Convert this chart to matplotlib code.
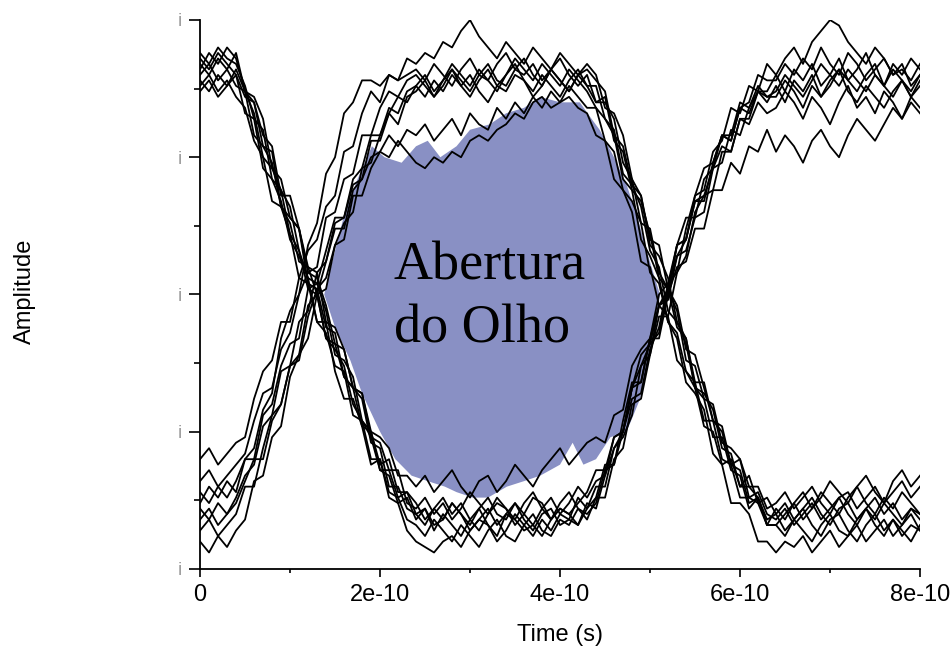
import matplotlib.pyplot as plt
import numpy as np

plt.rcParams["font.family"] = ["Liberation Sans", "DejaVu Sans"]

# sample instants shared by every trace (0 .. 0.8 ns, 10 ps step)
time = np.linspace(0, 8e-10, 81)

# traces with bit pattern 1-0-1
trace_a1 = [93, 91, 94, 92, 90,
            86, 85, 77, 76, 66, 64, 62, 52, 51, 44, 43, 35, 33, 31, 23, 22, 15, 15, 11,
            10, 11, 8, 9, 12, 10, 7, 9, 11, 8, 10, 12, 9, 7, 10, 11, 8, 9, 13, 11,
            13, 19, 19, 27, 34, 34, 42, 48, 49, 57, 60, 67, 67, 74, 79, 78, 84, 83, 87, 87,
            90, 87, 91, 89, 92, 88, 90, 93, 89, 91, 94, 90, 88, 92, 90, 93, 91]
trace_a2 = [88, 90, 87, 89, 86,
            84, 78, 75, 67, 66, 61, 53, 52, 45, 45, 36, 31, 31, 26, 19, 20, 14, 13, 9,
            8, 6, 9, 7, 5, 8, 6, 4, 7, 9, 6, 5, 8, 10, 7, 6, 9, 8, 11, 9,
            13, 13, 20, 22, 30, 31, 39, 46, 46, 54, 57, 65, 68, 69, 76, 76, 82, 81, 85, 83,
            84, 87, 85, 82, 86, 84, 81, 85, 88, 84, 86, 83, 87, 85, 82, 86, 84]
trace_a3 = [91, 94, 92, 95, 93,
            87, 86, 82, 73, 71, 64, 62, 54, 53, 48, 41, 40, 33, 32, 25, 24, 22, 17, 17,
            15, 17, 14, 16, 18, 15, 13, 16, 17, 14, 16, 19, 17, 15, 18, 20, 22, 19, 21, 23,
            24, 23, 28, 29, 37, 40, 42, 50, 52, 59, 64, 64, 71, 73, 79, 78, 84, 85, 90, 89,
            89, 92, 90, 93, 91, 95, 92, 90, 94, 92, 89, 91, 93, 90, 92, 88, 90]
trace_a4 = [89, 87, 90, 88, 91,
            87, 83, 75, 73, 69, 61, 58, 51, 50, 42, 40, 37, 30, 27, 20, 20, 13, 12, 7,
            5, 4, 3, 5, 6, 4, 7, 9, 8, 6, 10, 9, 7, 8, 6, 9, 11, 10, 8, 12,
            11, 17, 22, 24, 28, 37, 41, 43, 51, 57, 58, 64, 65, 73, 74, 80, 79, 84, 87, 86,
            86, 89, 87, 84, 88, 86, 89, 91, 87, 85, 88, 86, 84, 87, 89, 86, 88]
trace_a5 = [92, 90, 93, 91, 94,
            87, 85, 79, 77, 68, 68, 62, 55, 54, 45, 44, 40, 33, 32, 24, 23, 18, 18, 12,
            11, 13, 10, 12, 9, 11, 14, 12, 10, 13, 11, 9, 12, 14, 11, 13, 10, 12, 15, 13,
            16, 17, 24, 25, 33, 39, 41, 48, 50, 59, 60, 67, 68, 73, 77, 76, 82, 82, 87, 85,
            88, 85, 89, 87, 90, 86, 88, 91, 89, 87, 90, 92, 88, 86, 89, 87, 90]
trace_a6 = [90, 92, 89, 91, 88,
            87, 79, 77, 74, 66, 63, 56, 55, 50, 42, 41, 35, 33, 26, 25, 18, 18, 13, 14,
            10, 8, 11, 9, 12, 10, 8, 11, 13, 10, 9, 12, 10, 8, 11, 9, 12, 14, 11, 10,
            12, 18, 19, 25, 31, 32, 40, 44, 52, 54, 62, 68, 69, 76, 78, 84, 83, 88, 87, 92,
            90, 93, 95, 92, 96, 98, 100, 99, 96, 94, 92, 95, 93, 90, 91, 89, 92]
trace_a7 = [94, 92, 95, 93, 92,
            88, 82, 80, 71, 69, 66, 58, 53, 52, 47, 39, 38, 35, 27, 25, 19, 20, 14, 14,
            12, 9, 11, 13, 10, 12, 9, 7, 10, 12, 11, 8, 10, 13, 12, 9, 11, 10, 12, 14,
            18, 18, 24, 25, 33, 34, 42, 42, 50, 55, 56, 62, 62, 69, 69, 74, 72, 77, 76, 80,
            76, 79, 77, 74, 78, 80, 77, 75, 79, 82, 80, 78, 81, 84, 82, 85, 83]
trace_a8 = [87, 89, 86, 88, 90,
            83, 82, 73, 71, 67, 60, 57, 53, 45, 43, 37, 36, 28, 27, 24, 18, 17, 12, 13,
            9, 11, 7, 10, 8, 6, 9, 11, 8, 5, 7, 10, 8, 6, 9, 7, 10, 9, 8, 11,
            15, 15, 22, 25, 33, 37, 39, 48, 51, 59, 60, 68, 73, 74, 79, 79, 85, 84, 88, 86,
            87, 90, 88, 86, 89, 92, 90, 88, 91, 89, 87, 90, 88, 91, 89, 86, 89]

# traces with bit pattern 0-1-0
trace_b1 = [14, 12, 15, 13, 16,
            20, 20, 28, 30, 37, 41, 42, 51, 52, 58, 64, 64, 71, 73, 79, 79, 84, 83, 87,
            88, 86, 89, 87, 90, 88, 86, 89, 91, 88, 87, 90, 89, 86, 88, 91, 89, 87, 90, 88,
            85, 86, 78, 76, 69, 67, 61, 53, 51, 44, 42, 33, 32, 29, 22, 21, 15, 17, 12, 13,
            10, 12, 9, 11, 13, 10, 8, 11, 12, 9, 11, 13, 10, 12, 9, 11, 10]
trace_b2 = [5, 3, 6, 4, 7,
            9, 16, 17, 24, 26, 35, 39, 42, 50, 51, 59, 63, 65, 73, 74, 79, 83, 81, 86,
            87, 89, 86, 88, 91, 89, 87, 90, 92, 89, 88, 91, 93, 90, 88, 91, 89, 87, 90, 92,
            90, 84, 83, 79, 71, 68, 60, 59, 51, 48, 40, 39, 33, 27, 26, 19, 18, 12, 13, 8,
            8, 6, 9, 7, 5, 8, 10, 7, 6, 9, 11, 8, 6, 9, 7, 5, 8]
trace_b3 = [20, 22, 19, 21, 23,
            24, 31, 36, 38, 45, 45, 53, 58, 60, 66, 68, 76, 77, 83, 87, 85, 90, 89, 93,
            92, 94, 93, 96, 95, 98, 100, 97, 95, 93, 96, 94, 92, 95, 93, 91, 94, 92, 90, 91,
            89, 87, 79, 77, 70, 68, 59, 57, 53, 45, 42, 34, 34, 27, 25, 19, 20, 15, 15, 11,
            12, 14, 11, 13, 15, 12, 10, 13, 14, 11, 13, 15, 12, 14, 16, 13, 15]
trace_b4 = [12, 15, 13, 16, 14,
            20, 22, 29, 32, 42, 47, 50, 59, 63, 72, 75, 83, 85, 89, 89, 88, 90, 89, 90,
            91, 89, 92, 90, 88, 91, 93, 90, 89, 92, 94, 91, 90, 92, 89, 91, 93, 90, 88, 90,
            85, 85, 82, 74, 71, 63, 62, 54, 51, 47, 38, 37, 31, 30, 23, 22, 20, 13, 14, 10,
            9, 11, 8, 10, 12, 9, 11, 13, 10, 8, 11, 9, 12, 10, 8, 11, 9]
trace_b5 = [9, 11, 8, 10, 12,
            16, 20, 20, 27, 30, 37, 38, 46, 51, 53, 59, 60, 68, 68, 73, 76, 75, 78, 76,
            74, 73, 75, 74, 76, 75, 78, 79, 78, 80, 81, 83, 82, 85, 86, 84, 85, 86, 84, 83,
            79, 78, 71, 69, 65, 56, 55, 48, 46, 38, 36, 33, 26, 25, 19, 20, 15, 15, 13, 9,
            10, 7, 9, 11, 8, 6, 9, 10, 7, 5, 8, 10, 7, 9, 6, 8, 7]
trace_b6 = [16, 18, 15, 17, 19,
            21, 27, 32, 33, 40, 43, 50, 54, 55, 64, 65, 71, 72, 79, 79, 84, 87, 86, 89,
            90, 88, 86, 89, 91, 88, 90, 87, 85, 88, 90, 92, 89, 87, 90, 88, 86, 89, 91, 88,
            88, 82, 80, 72, 70, 66, 58, 55, 47, 45, 41, 33, 31, 24, 24, 18, 17, 11, 13, 8,
            8, 10, 12, 9, 11, 14, 12, 10, 13, 15, 12, 10, 13, 11, 14, 12, 10]
trace_b7 = [7, 9, 6, 8, 10,
            15, 15, 22, 28, 30, 37, 39, 48, 50, 56, 62, 62, 69, 71, 78, 78, 83, 86, 85,
            88, 90, 87, 89, 92, 90, 88, 91, 89, 87, 90, 93, 91, 89, 92, 90, 88, 91, 89, 87,
            84, 82, 79, 71, 69, 60, 57, 53, 45, 42, 34, 32, 29, 21, 19, 12, 12, 10, 5, 5,
            3, 5, 4, 6, 3, 5, 7, 4, 6, 8, 5, 7, 9, 6, 8, 10, 7]
trace_b8 = [11, 9, 12, 10, 13,
            17, 19, 26, 28, 36, 37, 45, 47, 54, 56, 63, 64, 70, 71, 75, 76, 79, 77, 80,
            79, 81, 78, 80, 82, 79, 83, 81, 80, 84, 82, 85, 83, 86, 84, 87, 85, 88, 86, 84,
            84, 78, 76, 69, 67, 63, 54, 52, 45, 43, 36, 34, 27, 27, 20, 19, 13, 13, 12, 8,
            11, 9, 12, 14, 11, 13, 16, 14, 12, 15, 17, 14, 12, 16, 18, 15, 17]

traces = [trace_a1, trace_a2, trace_a3, trace_a4, trace_a5, trace_a6, trace_a7, trace_a8,
          trace_b1, trace_b2, trace_b3, trace_b4, trace_b5, trace_b6, trace_b7, trace_b8]

# outline of the open eye (time in units of 1e-10 s), upper edge then lower edge
eye_t = [1.38, 1.5, 1.61, 1.75, 1.91, 2.05, 2.24, 2.4, 2.53, 2.67, 2.85, 3.0, 3.22,
         3.4, 3.6, 3.78, 4.0, 4.22, 4.35, 4.44, 4.6, 4.74, 4.86, 4.98, 5.11,
         5.06, 4.92, 4.89, 4.74, 4.56, 4.4, 4.26, 4.14, 4.0, 3.78, 3.6, 3.41, 3.2,
         3.03, 2.85, 2.72, 2.53, 2.35, 2.17, 2.0, 1.8, 1.67, 1.5]
eye_amp = [50, 58, 65, 71, 77, 75, 74, 77, 78, 75, 77, 80, 81, 83, 84, 86, 85, 85,
           82, 80, 75, 70, 64, 57, 50,
           43, 34, 31, 25, 24, 20, 19, 23, 19, 17, 16, 15, 13, 13, 14, 15, 16, 17,
           20, 25, 32, 38, 44]

x_ticks = [0, 2e-10, 4e-10, 6e-10, 8e-10]
x_labels = ["0", "2e-10", "4e-10", "6e-10", "8e-10"]
x_minor = [1e-10, 3e-10, 5e-10, 7e-10]
y_ticks = [0, 25, 50, 75, 100]
y_minor = [12.5, 37.5, 62.5, 87.5]

fig = plt.figure(figsize=(9.53, 6.47), dpi=100)
ax = fig.add_axes([0.2099, 0.1206, 0.7555, 0.8485])

ax.fill(np.array(eye_t) * 1e-10, eye_amp, color="#8990c4", lw=0, zorder=1)
for tr in traces:
    ax.plot(time, tr, color="black", lw=1.3, zorder=2)

ax.text(2.15e-10, 41.3, "Abertura\ndo Olho", family="Liberation Serif",
        fontsize=39, va="baseline", ha="left", linespacing=1.33, zorder=3)

ax.set_xlim(0, 8e-10)
ax.set_ylim(0, 100)
ax.spines[["top", "right"]].set_visible(False)
for side in ("left", "bottom"):
    ax.spines[side].set_linewidth(1.3)

ax.set_xticks(x_ticks, labels=x_labels)
ax.set_xticks(x_minor, minor=True)
ax.set_yticks(y_ticks, labels=["i"] * len(y_ticks))
ax.set_yticks(y_minor, minor=True)
ax.tick_params(axis="x", which="major", length=6, width=1.2, pad=5, labelsize=17)
ax.tick_params(axis="x", which="minor", length=3, width=1.2)
ax.tick_params(axis="y", which="major", length=8, width=1.2, pad=5,
               labelsize=14, labelcolor="#a0a0a0")
ax.tick_params(axis="y", which="minor", length=4, width=1.2)

ax.set_xlabel("Time (s)", fontsize=17, labelpad=13)
fig.text(25 / 953, 0.549, "Amplitude", rotation=90, ha="center", va="center", fontsize=17)

fig.savefig("out.png", dpi=100)
